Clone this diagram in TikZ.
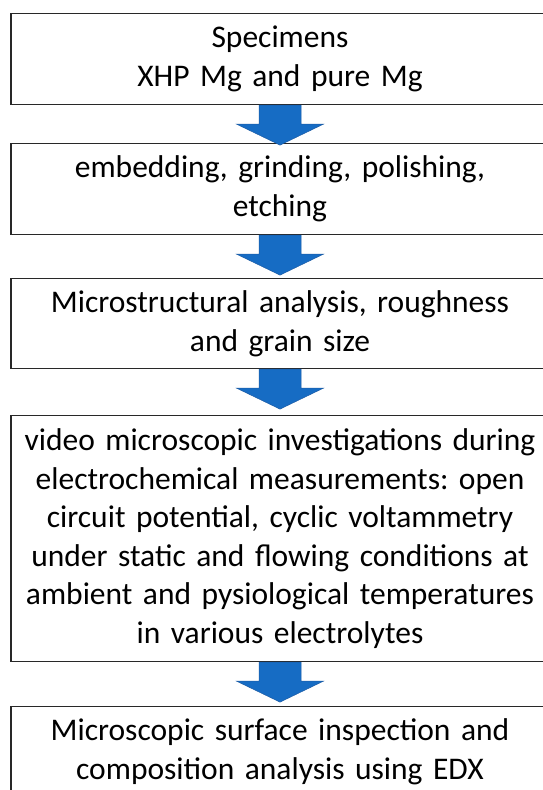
\documentclass[tikz,border=0pt]{standalone}
\usepackage{fontspec}
\setmainfont{Carlito}
\usetikzlibrary{calc}
\frenchspacing
\definecolor{arrowblue}{RGB}{22,108,196}
\definecolor{arrowedge}{RGB}{28,92,165}
\definecolor{boxline}{RGB}{40,40,40}
% block arrow hanging below a box: body 42 wide, head 87 wide
\newcommand\flowarrow[1]{%
  \filldraw[arrowblue, draw=arrowedge, line width=0.5pt]
    ($(#1.south)+(-21,0)$) -- ++(0,19) -- ++(-22.5,0)
    -- ($(#1.south)+(0,40)$)
    -- ($(#1.south)+(43.5,19)$) -- ++(-22.5,0)
    -- ($(#1.south)+(21,0)$) -- cycle;}
\begin{document}
\begin{tikzpicture}[x=1pt,y=-1pt,
  stepbox/.style={draw=boxline, line width=1.1pt, fill=white,
    minimum width=538pt, text width=536pt, align=center,
    font=\fontsize{31.5}{38.6}\selectfont, inner sep=0pt, anchor=north}]
\useasboundingbox (0,0) rectangle (543,790);
\clip (0,0) rectangle (543,790);
\fill[white] (0,0) rectangle (543,790);

\node[stepbox, minimum height=91pt] (spec) at (280,13)
  {Specimens\\XHP Mg and pure Mg};
\node[stepbox, minimum height=91pt] (prep) at (280,143)
  {embedding, grinding, polishing,\\etching};
\node[stepbox, minimum height=90pt] (micro) at (280,278)
  {Microstructural analysis, roughness\\and grain size};
\node[stepbox, minimum height=246pt] (video) at (280,415)
  {video microscopic investigations during\\
   electrochemical measurements: open\\
   circuit potential, cyclic voltammetry\\
   under static and flowing conditions at\\
   ambient and pysiological temperatures\\
   in various electrolytes};
\node[stepbox, minimum height=91pt] (edx) at (280,706)
  {Microscopic surface inspection and\\composition analysis using EDX};

\flowarrow{spec}
\flowarrow{prep}
\flowarrow{micro}
\flowarrow{video}
\end{tikzpicture}
\end{document}
